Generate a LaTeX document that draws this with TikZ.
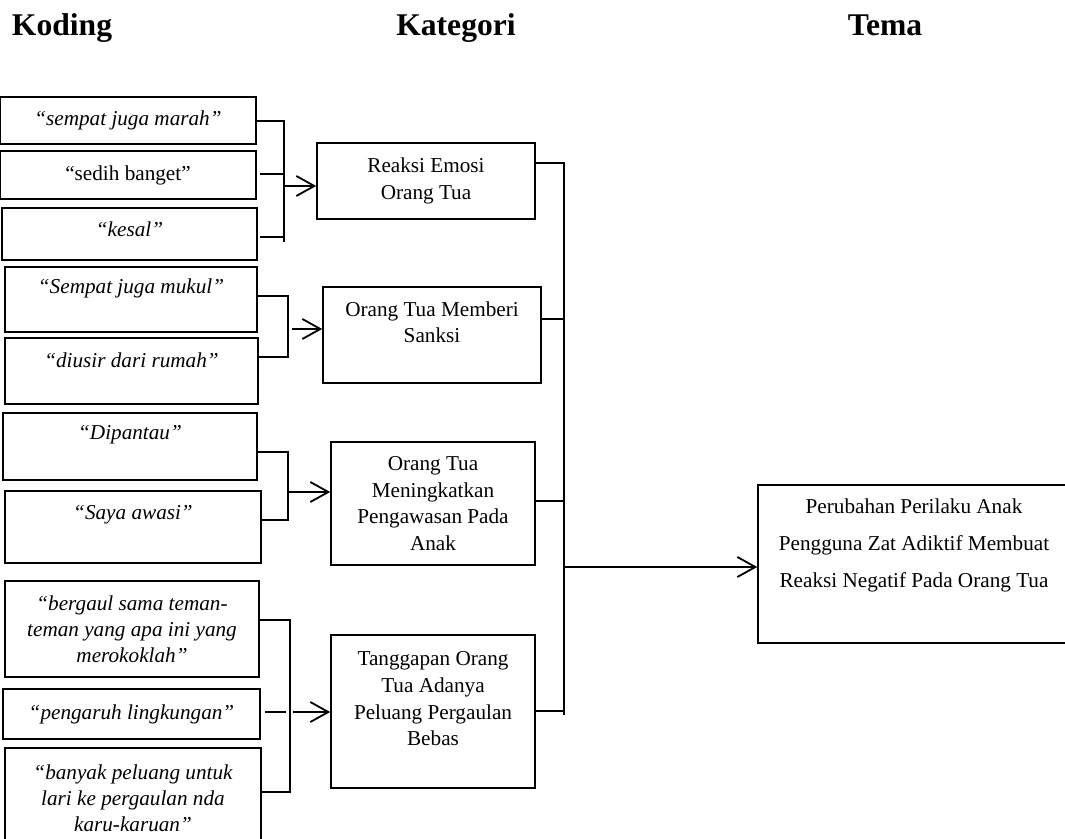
\documentclass[tikz,border=0pt]{standalone}
\usepackage{fontspec}
\setmainfont{Liberation Serif}
\usetikzlibrary{arrows.meta}

\begin{document}
\begin{tikzpicture}[x=0.5pt,y=-0.5pt,>={Straight Barb[length=9pt,width=10pt]},
    judul/.style={anchor=base, inner sep=0pt, font=\fontsize{15.8}{19}\selectfont\bfseries},
    kode/.style={draw, line width=0.8pt, inner sep=1pt, align=center, font=\fontsize{10.6}{13}\selectfont\itshape},
    kat/.style={draw, line width=0.8pt, inner sep=1pt, align=center, font=\fontsize{10.6}{13.4}\selectfont},
    tema/.style={draw, line width=0.8pt, inner sep=1pt, align=center, font=\fontsize{10.6}{18.5}\selectfont},
    garis/.style={line width=0.9pt}]
    \clip (0,0) rectangle (1065,839);

    % judul kolom
    \node[judul] (hKoding) at (62,36) {Koding};
    \node[judul] (hKategori) at (456,36) {Kategori};
    \node[judul] (hTema) at (885,36) {Tema};

    % koding
    \node[kode, minimum width=128pt, minimum height=23.5pt] (K1) at (128,120.5) {``sempat juga marah''};
    \node[kode, font=\fontsize{10.6}{13}\selectfont, minimum width=128pt, minimum height=24pt] (K2) at (128,175) {``sedih banget''};
    \node[kode, minimum width=127.5pt, minimum height=26pt, text depth=5.3pt] (K3) at (129.5,234) {``kesal''};
    \node[kode, minimum width=126pt, minimum height=32.5pt, text depth=13.8pt] (K4) at (131,299.5) {``Sempat juga mukul''};
    \node[kode, minimum width=126.5pt, minimum height=33pt, text depth=11.3pt] (K5) at (131.5,371) {``diusir dari rumah''};
    \node[kode, minimum width=127pt, minimum height=33.5pt, text depth=13.8pt] (K6) at (130,446.5) {``Dipantau''};
    \node[kode, minimum width=128pt, minimum height=36pt, text depth=14.3pt] (K7) at (133,527) {``Saya awasi''};
    \node[kode, minimum width=127pt, minimum height=48pt] (K8) at (132,629) {``bergaul sama teman-\\teman yang apa ini yang\\merokoklah''};
    \node[kode, minimum width=128.5pt, minimum height=25pt] (K9) at (131.5,714) {``pengaruh lingkungan''};
    \node[kode, minimum width=128pt, minimum height=50pt] (K10) at (133,798) {``banyak peluang untuk\\lari ke pergaulan nda\\karu-karuan''};

    % kategori
    \node[kat, minimum width=109pt, minimum height=38pt] (C1) at (426,181) {Reaksi Emosi\\Orang Tua};
    \node[kat, minimum width=109pt, minimum height=48pt, text depth=12.8pt] (C2) at (432,335) {Orang Tua Memberi\\Sanksi};
    \node[kat, minimum width=102pt, minimum height=61.5pt] (C3) at (433,503.5) {Orang Tua\\Meningkatkan\\Pengawasan Pada\\Anak};
    \node[kat, minimum width=102pt, minimum height=76.5pt, text depth=12.8pt] (C4) at (433,711.5) {Tanggapan Orang\\Tua Adanya\\Peluang Pergaulan\\Bebas};

    % tema
    \node[tema, minimum width=156pt, minimum height=79pt, text depth=21.3pt] (T) at (914,564) {Perubahan Perilaku Anak\\Pengguna Zat Adiktif Membuat\\Reaksi Negatif Pada Orang Tua};

    % koding ke kategori
    \coordinate (p1a) at (284,121);
    \coordinate (p1b) at (284,174);
    \coordinate (p1c) at (284,237);
    \coordinate (p1d) at (284,242);
    \coordinate (p1) at (284,186);
    \draw[garis] (K1.east |- p1a) -- (p1a) -- (p1d);
    \draw[garis, shorten <=1.5pt] (K2.east |- p1b) -- (p1b);
    \draw[garis, shorten <=1pt] (K3.east |- p1c) -- (p1c);
    \draw[garis,->] (p1) -- (p1 -| C1.west);

    \coordinate (p2a) at (288,296);
    \coordinate (p2b) at (288,357);
    \coordinate (p2) at (288,329);
    \draw[garis] (K4.east |- p2a) -- (p2a) -- (p2b) -- (K5.east |- p2b);
    \draw[garis,->, shorten <=2pt] (p2) -- (p2 -| C2.west);

    \coordinate (p3a) at (288,452);
    \coordinate (p3b) at (288,520);
    \coordinate (p3) at (288,492);
    \draw[garis] (K6.east |- p3a) -- (p3a) -- (p3b) -- (K7.east |- p3b);
    \draw[garis,->] (p3) -- (p3 -| C3.west);

    \coordinate (p4a) at (290,620);
    \coordinate (p4b) at (290,792);
    \coordinate (p4) at (290,712);
    \draw[garis] (K8.east |- p4a) -- (p4a) -- (p4b) -- (K10.east |- p4b);
    \draw[garis, shorten <=2pt, shorten >=2pt] (K9.east |- p4) -- (p4);
    \draw[garis,->, shorten <=1.5pt] (p4) -- (p4 -| C4.west);

    % kategori ke tema
    \coordinate (q1) at (564,163);
    \coordinate (q2) at (564,319);
    \coordinate (q3) at (564,501);
    \coordinate (q4) at (564,711);
    \coordinate (q5) at (564,715);
    \coordinate (q) at (564,567);
    \draw[garis] (C1.east |- q1) -- (q1) -- (q5);
    \draw[garis] (C2.east |- q2) -- (q2);
    \draw[garis] (C3.east |- q3) -- (q3);
    \draw[garis] (C4.east |- q4) -- (q4);
    \draw[garis,->] (q) -- (q -| T.west);
\end{tikzpicture}
\end{document}
